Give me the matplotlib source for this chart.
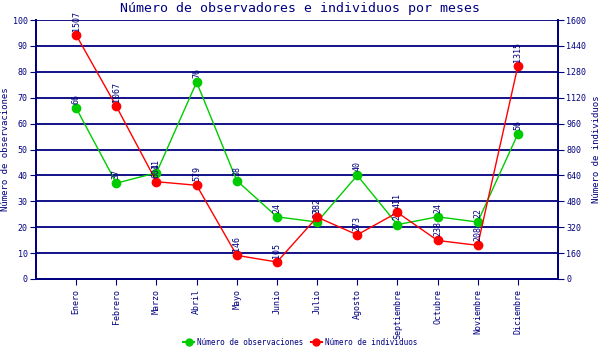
import numpy as np
import matplotlib
matplotlib.use("Agg")
import matplotlib.pyplot as plt
from matplotlib.lines import Line2D

meses = ["Enero", "Febrero", "Marzo", "Abril", "Mayo", "Junio", "Julio",
         "Agosto", "Septiembre", "Octubre", "Noviembre", "Diciembre"]
observaciones = [66, 37, 41, 76, 38, 24, 22, 40, 21, 24, 22, 56]
individuos = [1507, 1067, 601, 579, 146, 105, 382, 273, 411, 238, 208, 1315]

navy = "#000080"
green = "#00cc00"
red = "#ff0000"
plt.rcParams["font.family"] = "DejaVu Sans Mono"

fig = plt.figure(figsize=(6, 3.5), dpi=100)
ax = fig.add_axes([36 / 600, 1 - 279 / 350, 522 / 600, 259 / 350])
ax2 = ax.twinx()

x = np.arange(len(meses))
ax.set_xlim(-1, len(meses))
ax.set_ylim(0, 100)
ax2.set_ylim(0, 1600)
ax.set_yticks(range(0, 101, 10))
ax2.set_yticks(range(0, 1601, 160))

for y in range(10, 101, 10):
    ax.axhline(y, color=navy, lw=1.3, zorder=1)

ax.plot(x, observaciones, color=green, lw=1, marker="o", ms=6, zorder=3)
ax2.plot(x, individuos, color=red, lw=1, marker="o", ms=6, zorder=3)

for xi, v in zip(x, observaciones):
    ax.annotate(str(v), (xi, v), xytext=(0, 3), textcoords="offset points",
                rotation=90, ha="center", va="bottom", fontsize=6, color=navy)
for xi, v in zip(x, individuos):
    ax2.annotate(str(v), (xi, v), xytext=(0, 3), textcoords="offset points",
                 rotation=90, ha="center", va="bottom", fontsize=6, color=navy)

ax.set_xticks(x)
ax.set_xticklabels(meses, rotation=90, fontsize=6, color=navy)
for a in (ax, ax2):
    a.tick_params(axis="y", labelsize=6, labelcolor=navy, color=navy,
                  length=4, pad=2)
    for s in a.spines.values():
        s.set_color(navy)
        s.set_linewidth(1.3)
ax.tick_params(axis="x", color=navy, length=4)
ax.spines["top"].set_visible(False)
ax2.spines["top"].set_visible(False)

ax.set_ylabel("Número de observaciones", color=navy, fontsize=6.5, labelpad=2)
ax2.set_ylabel("Número de individuos", color=navy, fontsize=6.5, labelpad=4)
fig.suptitle("Número de observadores e individuos por meses", color=navy,
             fontsize=9.5, y=0.995)

handles = [
    Line2D([], [], color=green, marker="o", ms=5, lw=1.5),
    Line2D([], [], color=red, marker="o", ms=5, lw=1.5),
]
fig.legend(handles, ["Número de observaciones", "Número de individuos"],
           loc="lower center", ncol=2, frameon=False, fontsize=5.5,
           bbox_to_anchor=(0.5, -0.01), handlelength=1.5, columnspacing=1.0,
           handletextpad=0.3, labelcolor=navy)

fig.savefig("out.png", dpi=100)
